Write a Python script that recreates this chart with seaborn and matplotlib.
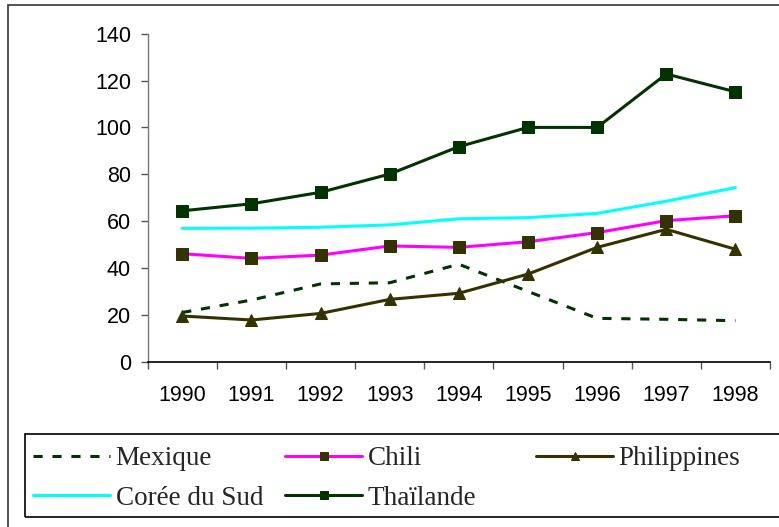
import numpy as np
import matplotlib
matplotlib.use("Agg")
import matplotlib.pyplot as plt
import seaborn as sns
from matplotlib.patches import Rectangle

years = ["1990", "1991", "1992", "1993", "1994", "1995", "1996", "1997", "1998"]
mexique = [21, 26.3, 33.2, 33.7, 41.6, 30.0, 18.5, 18.1, 17.5]
chili = [46.1, 44.1, 45.5, 49.4, 48.8, 51.2, 55.1, 60.2, 62.3]
philippines = [19.5, 17.8, 20.6, 26.6, 29.2, 37.4, 48.8, 56.5, 48.0]
coree = [56.9, 57.0, 57.4, 58.4, 61.0, 61.5, 63.3, 68.5, 74.3]
thailande = [64.4, 67.4, 72.3, 80.1, 91.8, 100.0, 100.0, 122.8, 115.2]
y_ticks = [0, 20, 40, 60, 80, 100, 120, 140]

sns.set_style("white")
plt.rcParams['font.family'] = ['Liberation Sans', 'DejaVu Sans']

W, H = 779, 527
fig = plt.figure(figsize=(W / 100, H / 100), dpi=100)
ax = fig.add_axes([147.7 / W, 1 - 361.7 / H, (770 - 147.7) / W, (361.7 - 33.7) / H])

x = np.arange(len(years))
dark_green = "#003300"
olive = "#333300"

sns.lineplot(x=x, y=mexique, ax=ax, color=dark_green, linewidth=2.2,
             linestyle=(0, (3, 3.2)), label="Mexique")
sns.lineplot(x=x, y=chili, ax=ax, color="#FF00FF", linewidth=2.2, marker="s",
             markersize=8, markerfacecolor=olive, markeredgecolor=olive, label="Chili")
sns.lineplot(x=x, y=philippines, ax=ax, color=olive, linewidth=2.2, marker="^",
             markersize=8, markerfacecolor=olive, markeredgecolor=olive, label="Philippines")
sns.lineplot(x=x, y=coree, ax=ax, color="#00FFFF", linewidth=2.2, label="Corée du Sud")
sns.lineplot(x=x, y=thailande, ax=ax, color=dark_green, linewidth=2.2, marker="s",
             markersize=8, markerfacecolor=dark_green, markeredgecolor=dark_green,
             label="Thaïlande")

handles, labels = ax.get_legend_handles_labels()
if ax.get_legend() is not None:
    ax.get_legend().remove()

ax.set_xlim(-0.5, len(years) - 0.5)
ax.set_ylim(0, 140)
ax.set_yticks(y_ticks)
ax.set_xticks(x)
ax.set_xticklabels(years)
ax.set_xticks(np.arange(-0.5, len(years), 1.0), minor=True)
ax.tick_params(axis="x", which="major", length=0, pad=16.5, labelsize=15.5, colors="black")
ax.tick_params(axis="x", which="minor", length=5, width=1, color="#555555", direction="out", bottom=True)
ax.tick_params(axis="y", length=5, width=1, color="#555555", direction="out", left=True,
               pad=7, labelsize=15.5, labelcolor="black")
for s in ["top", "right"]:
    ax.spines[s].set_visible(False)
ax.spines["left"].set_color("#777777")
ax.spines["left"].set_linewidth(1)
ax.spines["bottom"].set_color("black")
ax.spines["bottom"].set_linewidth(1.2)
ax.set_xlabel("")
ax.set_ylabel("")

# outer frame (cut off at right and bottom)
fig.add_artist(Rectangle((8 / W, -0.1), 1.2, (H - 4.5) / H + 0.1, transform=fig.transFigure,
                         fill=False, edgecolor="#333333", linewidth=1.2, clip_on=False))
# legend box
fig.add_artist(Rectangle((25 / W, 1 - 517 / H), 1.2, (517 - 434) / H, transform=fig.transFigure,
                         fill=False, edgecolor="black", linewidth=1.2, clip_on=False))

order = {"Mexique": 0, "Corée du Sud": 0, "Chili": 1, "Thaïlande": 1, "Philippines": 2}
col_x = [33, 285, 536]
for c in range(3):
    hs = [h for h, l in zip(handles, labels) if order[l] == c]
    ls = [l for l in labels if order[l] == c]
    fig.legend(hs, ls, loc="upper left", bbox_to_anchor=(col_x[c] / W, 1 - 446 / H),
               frameon=False, borderpad=0, borderaxespad=0, handlelength=2.85,
               handletextpad=0.2, labelspacing=0.55, markerscale=0.8,
               prop={"family": ["Liberation Serif", "DejaVu Serif"], "size": 19.5})

fig.savefig("out.png", dpi=100)
